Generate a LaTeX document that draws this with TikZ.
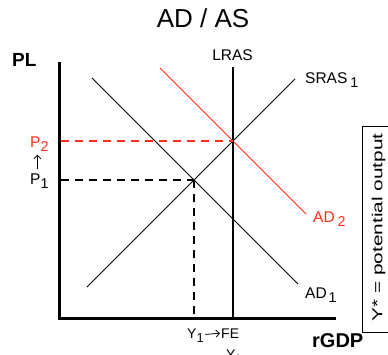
\documentclass[tikz,border=0pt]{standalone}
\usepackage{fontspec}
\setmainfont{Liberation Sans}
\usepackage{graphicx}
\usetikzlibrary{arrows.meta}
\definecolor{adred}{RGB}{255,45,25}
\newcommand{\lowsub}[1]{\raisebox{-0.32em}{\scalebox{0.92}{#1}}}
\begin{document}
\begin{tikzpicture}[x=1pt,y=-1pt,
  lbl/.style={font=\fontsize{15.5}{18}\selectfont, inner sep=0pt, anchor=base west},
  smalllbl/.style={font=\fontsize{14}{16}\selectfont, inner sep=0pt, anchor=base west},
  bigbold/.style={font=\bfseries\fontsize{20}{24}\selectfont, inner sep=0pt, anchor=base west},
  axisline/.style={line width=3pt},
  curve/.style={line width=1pt},
  lrasline/.style={line width=1.4pt},
  guide/.style={line width=1.2pt, dash pattern=on 8pt off 6pt},
  textarrow/.style={line width=0.8pt, -{Straight Barb[length=3.5pt,width=7pt]}}]
\useasboundingbox (0,0) rectangle (388,354);
\clip (0,0) rectangle (388,354);

% key points
\coordinate (O) at (59,318);
\coordinate (Ytop) at (59,62);
\coordinate (Xend) at (336,318);
\coordinate (E1) at (194,180);
\coordinate (E2) at (233,141);
\coordinate (LRtop) at (233,67);
\coordinate (LRbot) at (233,318);
\coordinate (SRa) at (87,287);
\coordinate (SRb) at (295,79);
\coordinate (AD1a) at (92,78);
\coordinate (AD1b) at (298,284);
\coordinate (AD2a) at (160,68);
\coordinate (AD2b) at (306,214);
\coordinate (P1ax) at (61,180);
\coordinate (P2ax) at (61,141);
\coordinate (E1x) at (194,316);

% title and axis labels
\node[font=\fontsize{26}{30}\selectfont, inner sep=0pt] (title) at (203,18.5) {AD / AS};
\node[bigbold, font=\bfseries\fontsize{19}{22}\selectfont] (pl) at (12,66) {PL};
\node[bigbold] (rgdp) at (312,347) {rGDP};

% curves
\draw[curve] (AD1a) -- (AD1b);
\draw[curve] (SRa) -- (SRb);
\draw[curve, adred] (AD2a) -- (AD2b);
\draw[lrasline] (LRtop) -- (LRbot);

% guides
\draw[guide, adred] (P2ax) -- (E2);
\draw[guide] (P1ax) -- (E1);
\draw[guide] (E1) -- (E1x);

% axes
\draw[axisline] (Ytop) -- (O) -- (Xend);

% curve labels
\node[lbl, anchor=base] (lras) at (232.5,60) {LRAS};
\node[lbl] (sras) at (305,83) {SRAS\hspace{3pt}\lowsub{1}};
\node[lbl, text=adred] (ad2) at (313,222) {AD\hspace{3pt}\lowsub{2}};
\node[lbl] (ad1) at (305,298) {AD\hspace{2pt}\lowsub{1}};

% price labels
\node[lbl, text=adred] (p2) at (30,147) {P\lowsub{2}};
\node[lbl] (p1) at (30,184) {P\lowsub{1}};
\draw[textarrow] ([xshift=-2pt,yshift=4pt]p1.north) -- ([xshift=-2pt,yshift=-2.5pt]p2.south);

% output labels
\node[smalllbl] (y1) at (187,338) {Y\lowsub{1}};
\node[smalllbl] (fe) at (221,338) {FE};
\draw[textarrow] ([xshift=1.5pt,yshift=1pt]y1.east) -- ([xshift=-1pt]fe.west);
\node[smalllbl] (ystar) at (226,359) {Y\lowsub{*}};

% note box
\draw[line width=0.8pt] (400,126) -- (362,126) -- (362,332) -- (400,332);
\node[inner sep=0pt, rotate=90, font=\fontsize{14.5}{18}\selectfont] (note) at (378.5,227.5) {\scalebox{1.44}[1]{Y* = potential output}};
\end{tikzpicture}
\end{document}
